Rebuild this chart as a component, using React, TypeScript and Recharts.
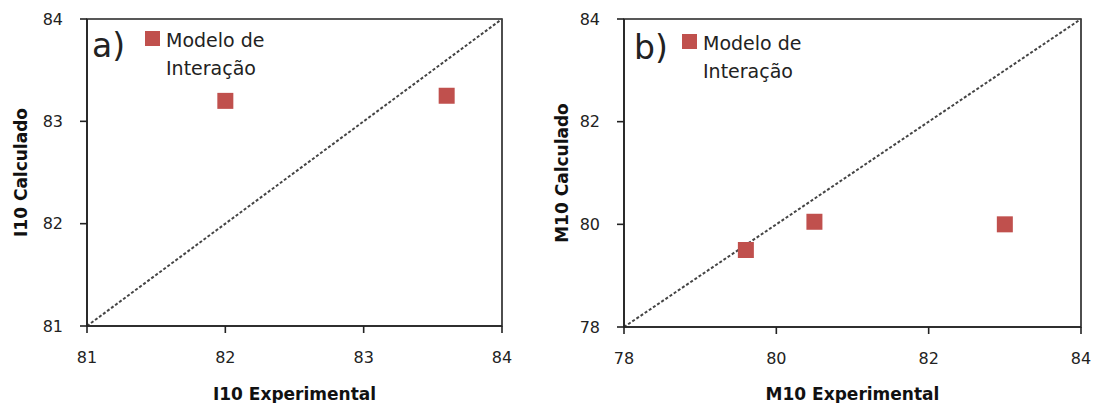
import React from 'react'
import {
    ScatterChart,
    Scatter,
    XAxis,
    YAxis,
    ReferenceLine,
    ReferenceArea,
    Legend,
} from 'recharts'

// painel a) I10
const i10Experimental = [82.0, 83.6]
const i10Calculado = [83.2, 83.25]
const i10Ticks = [81, 82, 83, 84]

// painel b) M10
const m10Experimental = [79.6, 80.5, 83.0]
const m10Calculado = [79.5, 80.05, 80.0]
const m10Ticks = [78, 80, 82, 84]

const seriesName = 'Modelo de Interação'
const FONT = "'DejaVu Sans', Verdana, sans-serif"
const RED = '#c0504d'

const toPoints = (xs: number[], ys: number[]) => xs.map((x, i) => ({ x, y: ys[i] }))

const squareShape = (props: any) => (
    <rect x={props.cx - 8} y={props.cy - 8} width={16} height={16} fill={RED} />
)

const PanelLegend = ({ tag, tagLeft, tagTop, boxLeft, textLeft, textTop }: any) => (
    <div style={{ position: 'relative', fontFamily: FONT, color: '#222' }}>
        <div style={{ position: 'absolute', left: tagLeft, top: tagTop, fontSize: 33, lineHeight: 1 }}>{tag}</div>
        <div style={{ position: 'absolute', left: boxLeft, top: textTop + 5, width: 15, height: 15, background: RED }} />
        <div style={{ position: 'absolute', left: textLeft, top: textTop, fontSize: 19, lineHeight: '28px', width: 140, textAlign: 'left' }}>
            Modelo de<br />Interação
        </div>
    </div>
)

type PanelProps = {
    width: number
    yAxisWidth: number
    right: number
    bottomAxis: number
    yLabelOffset: number
    ticks: number[]
    xs: number[]
    ys: number[]
    xLabel: string
    yLabel: string
    legend: any
}

const Panel = ({ width, yAxisWidth, right, bottomAxis, yLabelOffset, ticks, xs, ys, xLabel, yLabel, legend }: PanelProps) => {
    const lo = ticks[0]
    const hi = ticks[ticks.length - 1]
    const tickStyle = { fontSize: 16, fill: '#222', fontFamily: FONT }
    const titleStyle = { fontSize: 17, fontWeight: 'bold', fill: '#111', fontFamily: FONT }
    return (
        <ScatterChart width={width} height={403} margin={{ top: 19, right, bottom: 0, left: 0 }}>
            <XAxis
                type="number"
                dataKey="x"
                domain={[lo, hi]}
                ticks={ticks}
                height={bottomAxis}
                tickSize={7}
                tickMargin={19}
                tick={tickStyle}
                axisLine={{ stroke: '#222', strokeWidth: 1.6 }}
                tickLine={{ stroke: '#222', strokeWidth: 1.6 }}
                label={{ value: xLabel, position: 'insideBottom', offset: 3, style: titleStyle }}
            />
            <YAxis
                type="number"
                dataKey="y"
                domain={[lo, hi]}
                ticks={ticks}
                width={yAxisWidth}
                tickSize={7}
                tickMargin={17}
                tick={tickStyle}
                axisLine={{ stroke: '#222', strokeWidth: 1.6 }}
                tickLine={{ stroke: '#222', strokeWidth: 1.6 }}
                label={{ value: yLabel, angle: -90, position: 'insideLeft', offset: yLabelOffset, style: { ...titleStyle, textAnchor: 'middle' } }}
            />
            <ReferenceArea x1={lo} x2={hi} y1={lo} y2={hi} fill="none" stroke="#222" strokeWidth={1.6} />
            <ReferenceLine
                segment={[{ x: lo, y: lo }, { x: hi, y: hi }]}
                stroke="#444"
                strokeWidth={2}
                strokeDasharray="3 2"
            />
            <Legend
                layout="horizontal"
                verticalAlign="middle"
                align="center"
                wrapperStyle={{ left: 0, top: 0, width: width, height: 0 }}
                content={() => legend}
            />
            <Scatter
                name={seriesName}
                data={toPoints(xs, ys)}
                shape={squareShape}
                isAnimationActive={false}
            />
        </ScatterChart>
    )
}

export default function App() {
    return (
        <div style={{ position: 'absolute', left: 0, top: 0, width: 1096, height: 403, background: '#fff' }}>
            <div style={{ position: 'absolute', left: 0, top: 0 }}>
                <Panel
                    width={520}
                    yAxisWidth={87}
                    right={18}
                    bottomAxis={77}
                    yLabelOffset={21}
                    ticks={i10Ticks}
                    xs={i10Experimental}
                    ys={i10Calculado}
                    xLabel="I10 Experimental"
                    yLabel="I10 Calculado"
                    legend={<PanelLegend tag="a)" tagLeft={92} tagTop={29} boxLeft={145} textLeft={166} textTop={26} />}
                />
            </div>
            <div style={{ position: 'absolute', left: 540, top: 0 }}>
                <Panel
                    width={556}
                    yAxisWidth={84}
                    right={15}
                    bottomAxis={76}
                    yLabelOffset={22}
                    ticks={m10Ticks}
                    xs={m10Experimental}
                    ys={m10Calculado}
                    xLabel="M10 Experimental"
                    yLabel="M10 Calculado"
                    legend={<PanelLegend tag="b)" tagLeft={94} tagTop={31} boxLeft={142} textLeft={163} textTop={29} />}
                />
            </div>
        </div>
    )
}
